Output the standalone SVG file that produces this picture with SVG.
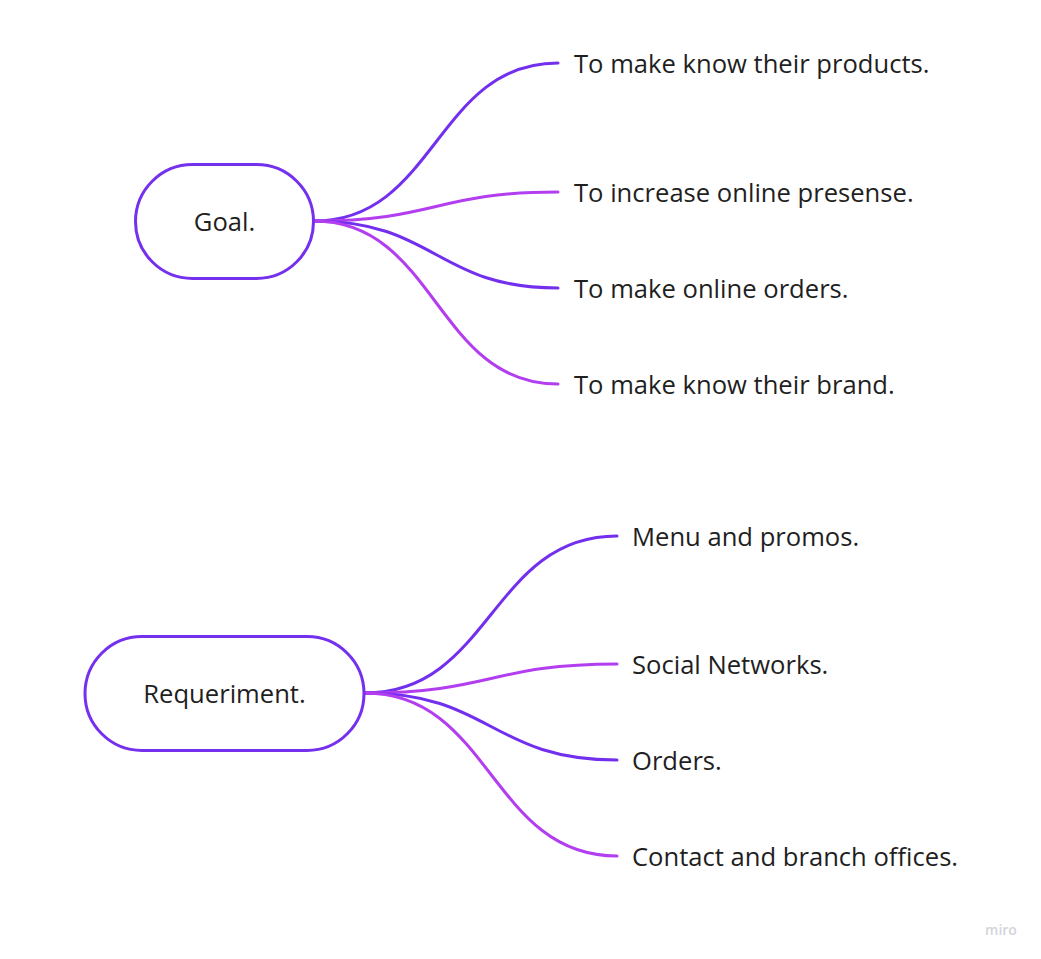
<svg xmlns="http://www.w3.org/2000/svg" width="1041" height="959" viewBox="0 0 1041 959">
<style>
.node{fill:#ffffff;stroke:#7530ee;stroke-width:3}
.lbl{font-family:"Open Sans","Noto Sans",sans-serif;font-size:25.6px;fill:#1f1f1f}
.nlbl{font-family:"Open Sans","Noto Sans",sans-serif;font-size:25.6px;fill:#1f1f1f;text-anchor:middle}
.c1{fill:none;stroke:#7230ee;stroke-width:3;stroke-linecap:round}
.c2{fill:none;stroke:#b33ef0;stroke-width:3;stroke-linecap:round}
</style>
<rect width="1041" height="959" fill="#ffffff"/>
<g id="connectors">
<path class="c1" d="M314,221 C436,221 436,63 558,63"/>
<path class="c2" d="M314,221 C436,221 436,192 558,192"/>
<path class="c1" d="M314,221 C436,221 436,288 558,288"/>
<path class="c2" d="M314,221 C436,221 436,384 558,384"/>
<path class="c1" d="M365,693 C491,693 491,536 617,536"/>
<path class="c2" d="M365,693 C491,693 491,664 617,664"/>
<path class="c1" d="M365,693 C491,693 491,760 617,760"/>
<path class="c2" d="M365,693 C491,693 491,856 617,856"/>
</g>
<g id="goal">
<rect class="node" x="135.5" y="164.5" width="178" height="114" rx="57"/>
<text class="nlbl" x="224.5" y="231">Goal.</text>
</g>
<g id="requirement">
<rect class="node" x="85" y="636.5" width="279" height="114" rx="57"/>
<text class="nlbl" x="224.5" y="702.5">Requeriment.</text>
</g>
<g id="g1"><text class="lbl" x="574" y="73">To make know their products.</text></g>
<g id="g2"><text class="lbl" x="574" y="202">To increase online presense.</text></g>
<g id="g3"><text class="lbl" x="574" y="298">To make online orders.</text></g>
<g id="g4"><text class="lbl" x="574" y="394">To make know their brand.</text></g>
<g id="r1"><text class="lbl" x="632" y="546">Menu and promos.</text></g>
<g id="r2"><text class="lbl" x="632" y="674">Social Networks.</text></g>
<g id="r3"><text class="lbl" x="632" y="770">Orders.</text></g>
<g id="r4"><text class="lbl" x="632" y="866">Contact and branch offices.</text></g>
<text x="1001" y="935" text-anchor="middle" font-family="'Open Sans',sans-serif" font-size="14" font-weight="600" fill="#d4d4dc">miro</text>
</svg>
